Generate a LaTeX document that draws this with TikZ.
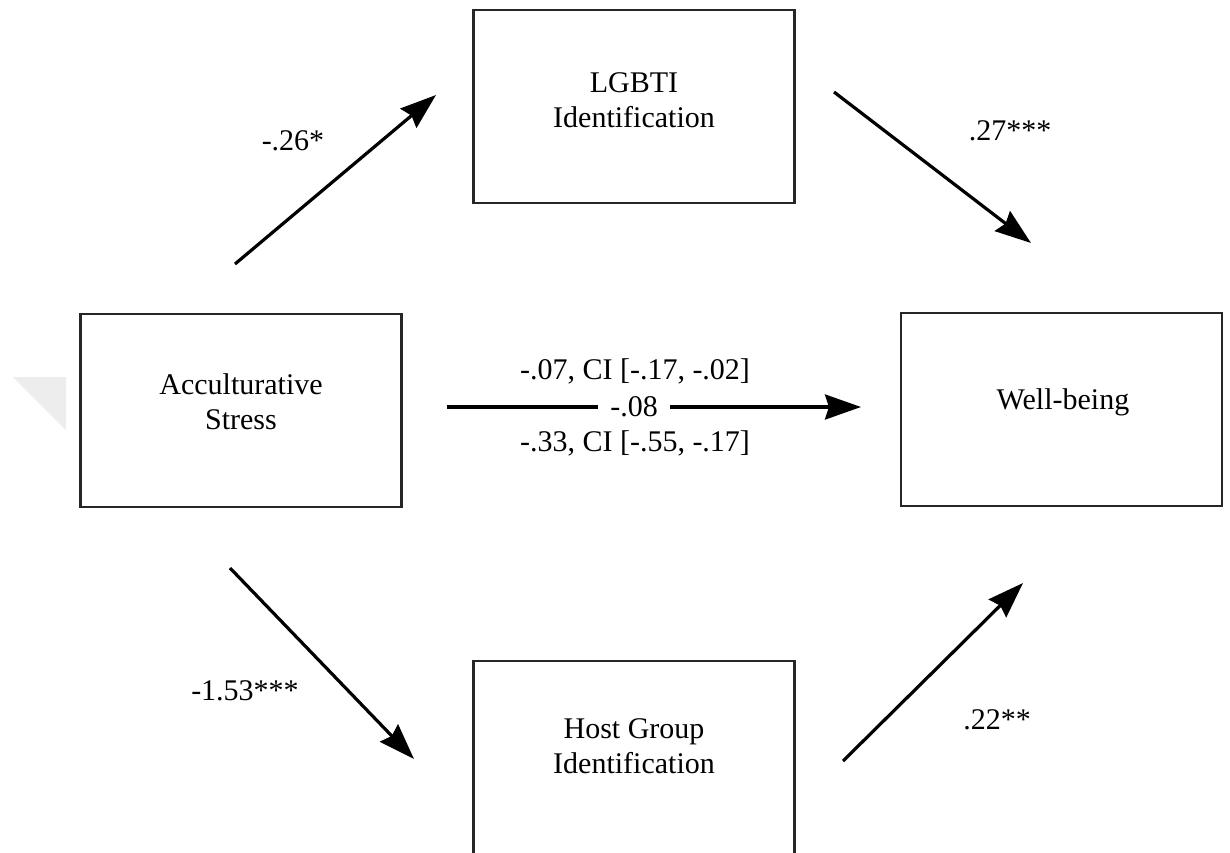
\documentclass[tikz,border=0pt]{standalone}
\usepackage{fontspec}
\setmainfont{Liberation Serif}
\usetikzlibrary{arrows.meta}

\tikzset{
  varbox/.style={draw=black!85, line width=1.1pt, rectangle, minimum width=160.5pt, minimum height=96.5pt, inner sep=0pt},
  boxtext/.style={align=center, font=\fontsize{15pt}{17.5pt}\selectfont, inner sep=0pt},
  coef/.style={font=\fontsize{15pt}{17.5pt}\selectfont, inner sep=0pt},
  path arrow/.style={line width=1.6pt, -{Stealth[length=18pt, width=12.5pt, inset=2pt]}}
}

\begin{document}
\begin{tikzpicture}[x=0.5pt, y=-0.5pt]
  \clip (0,0) rectangle (1230,852);
  \fill[white] (0,0) rectangle (1230,852);

  % faint corner mark at the left edge
  \fill[black!7] (13,377) -- (66,377) -- (66,430) -- cycle;

  % variable boxes
  \node[varbox] (lgbti) at (634,106.5) {};
  \node[varbox] (acc)   at (241,410.5) {};
  \node[varbox] (well)  at (1061.5,409.5) {};
  \node[varbox] (host)  at (634,757.5) {};

  \node[boxtext] (lgbtiT) at (634,100) {LGBTI\\Identification};
  \node[boxtext] (accT)   at (241,402) {Acculturative\\Stress};
  \node[boxtext] (wellT)  at (1063,402) {Well-being};
  \node[boxtext] (hostT)  at (634,746) {Host Group\\Identification};

  % free ends of the path arrows
  \coordinate (a1) at (235,264);  \coordinate (a2) at (436,95);
  \coordinate (b1) at (834,92);   \coordinate (b2) at (1031,243);
  \coordinate (c1) at (230,568);  \coordinate (c2) at (414,759);
  \coordinate (d1) at (843,761);  \coordinate (d2) at (1023,583);
  \coordinate (m1) at (447,407);  \coordinate (m2) at (861,407);

  \draw[path arrow] (a1) -- (a2);
  \draw[path arrow] (b1) -- (b2);
  \draw[path arrow] (c1) -- (c2);
  \draw[path arrow] (d1) -- (d2);
  \draw[path arrow] (m1) -- (m2)
    node[coef, pos=0.452, fill=white, inner xsep=6pt, inner ysep=2pt] (direct) {-.08};

  % path coefficients
  \node[coef] (ca) at (293,141) {-.26*};
  \node[coef] (cb) at (1010,131) {.27***};
  \node[coef] (cc) at (245,691) {-1.53***};
  \node[coef] (cd) at (997,720) {.22**};
  \node[coef] (ind1) at (635,371) {-.07, CI [-.17, -.02]};
  \node[coef] (ind2) at (635,443) {-.33, CI [-.55, -.17]};
\end{tikzpicture}
\end{document}
